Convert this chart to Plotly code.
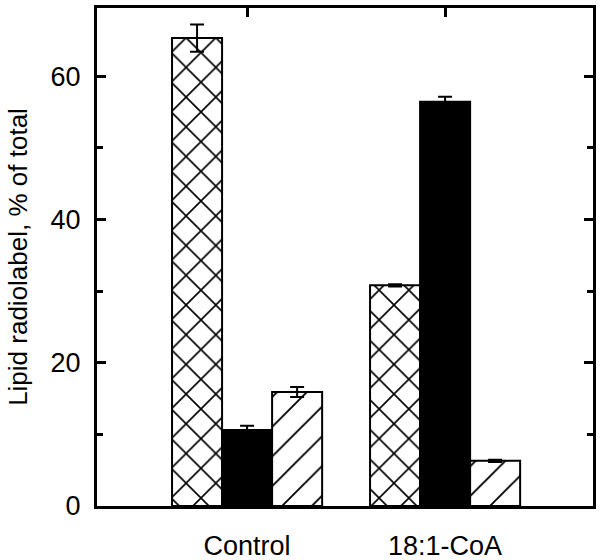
import plotly.graph_objects as go

groups = ['Control', '18:1-CoA']

cross_vals = [65.3, 30.8]
cross_err = [1.9, 0.15]
black_vals = [10.6, 56.4]
black_err = [0.6, 0.7]
hatch_vals = [15.9, 6.3]
hatch_err = [0.7, 0.15]

font = 'Liberation Sans, Arial, sans-serif'


def bar(vals, errs, color, shape, solidity):
    return go.Bar(x=groups, y=vals,
                  marker=dict(color=color,
                              line=dict(color='black', width=2),
                              pattern=dict(shape=shape, fgcolor='black', bgcolor=color,
                                           fgopacity=1, fillmode='replace',
                                           size=21, solidity=solidity)),
                  error_y=dict(type='data', array=errs, visible=True,
                               color='black', thickness=2, width=7),
                  showlegend=False)


fig = go.Figure()
fig.add_trace(bar(cross_vals, cross_err, 'white', 'x', 0.15))
fig.add_trace(bar(black_vals, black_err, 'black', '', 0.15))
fig.add_trace(bar(hatch_vals, hatch_err, 'white', '/', 0.09))

fig.update_layout(width=600, height=560,
                  margin=dict(l=97, r=7, t=8, b=54),
                  plot_bgcolor='white', paper_bgcolor='white',
                  barmode='group', bargap=0.242, bargroupgap=0,
                  font=dict(family=font, size=27, color='black'))

fig.update_xaxes(range=[-0.758, 1.747], showline=True, linecolor='black', linewidth=3,
                 mirror='ticks', ticks='inside', ticklen=9, tickwidth=3, tickcolor='black',
                 ticklabelstandoff=14, showgrid=False, automargin=False)
fig.update_yaxes(range=[0, 69.5], showline=True, linecolor='black', linewidth=3,
                 mirror='ticks', ticks='inside', ticklen=9, tickwidth=3, tickcolor='black',
                 tickvals=[0, 20, 40, 60], showgrid=False, zeroline=False,
                 ticklabelstandoff=8, automargin=False,
                 minor=dict(tickvals=[10, 30, 50], ticks='inside', ticklen=6,
                            tickwidth=3, tickcolor='black'),
                 title=dict(text='Lipid radiolabel, % of total', standoff=16,
                            font=dict(size=26)))

# the page body has a default 8px margin; drop it so the figure fills the window
fig.write_html("out.html", config={'displayModeBar': False},
               post_script="document.body.style.margin = '0';")
